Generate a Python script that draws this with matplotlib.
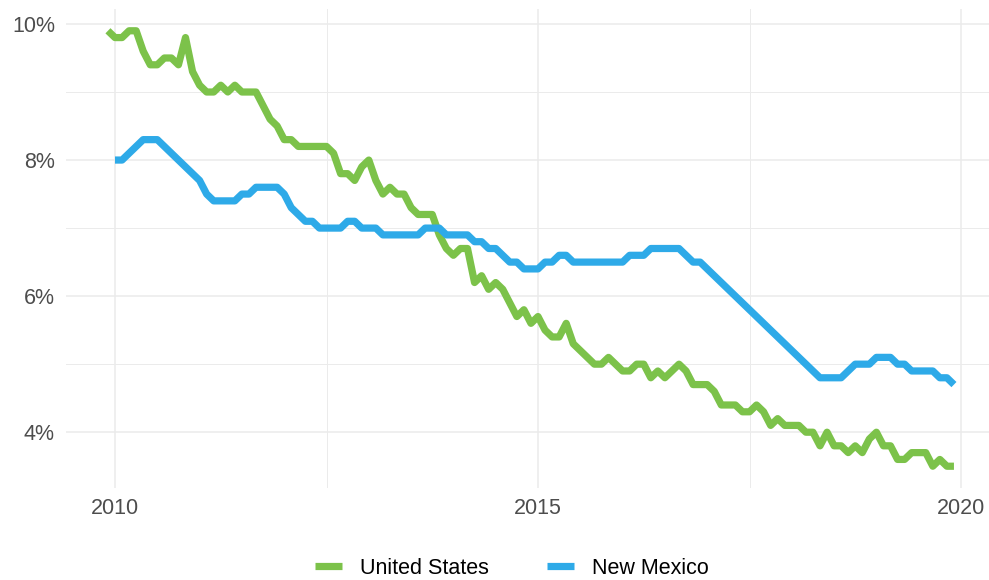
import numpy as np
import pandas as pd
import matplotlib
matplotlib.use('Agg')
import matplotlib.pyplot as plt
from matplotlib.ticker import FuncFormatter, MultipleLocator

# monthly unemployment rate (%)
us_start = '2009-12-01'
us_rate = [9.9,
           9.8, 9.8, 9.9, 9.9, 9.6, 9.4, 9.4, 9.5, 9.5, 9.4, 9.8, 9.3,
           9.1, 9.0, 9.0, 9.1, 9.0, 9.1, 9.0, 9.0, 9.0, 8.8, 8.6, 8.5,
           8.3, 8.3, 8.2, 8.2, 8.2, 8.2, 8.2, 8.1, 7.8, 7.8, 7.7, 7.9,
           8.0, 7.7, 7.5, 7.6, 7.5, 7.5, 7.3, 7.2, 7.2, 7.2, 6.9, 6.7,
           6.6, 6.7, 6.7, 6.2, 6.3, 6.1, 6.2, 6.1, 5.9, 5.7, 5.8, 5.6,
           5.7, 5.5, 5.4, 5.4, 5.6, 5.3, 5.2, 5.1, 5.0, 5.0, 5.1, 5.0,
           4.9, 4.9, 5.0, 5.0, 4.8, 4.9, 4.8, 4.9, 5.0, 4.9, 4.7, 4.7,
           4.7, 4.6, 4.4, 4.4, 4.4, 4.3, 4.3, 4.4, 4.3, 4.1, 4.2, 4.1,
           4.1, 4.1, 4.0, 4.0, 3.8, 4.0, 3.8, 3.8, 3.7, 3.8, 3.7, 3.9,
           4.0, 3.8, 3.8, 3.6, 3.6, 3.7, 3.7, 3.7, 3.5, 3.6, 3.5, 3.5]

nm_start = '2010-01-01'
nm_rate = [8.0, 8.0, 8.1, 8.2, 8.3, 8.3, 8.3, 8.2, 8.1, 8.0, 7.9, 7.8,
           7.7, 7.5, 7.4, 7.4, 7.4, 7.4, 7.5, 7.5, 7.6, 7.6, 7.6, 7.6,
           7.5, 7.3, 7.2, 7.1, 7.1, 7.0, 7.0, 7.0, 7.0, 7.1, 7.1, 7.0,
           7.0, 7.0, 6.9, 6.9, 6.9, 6.9, 6.9, 6.9, 7.0, 7.0, 7.0, 6.9,
           6.9, 6.9, 6.9, 6.8, 6.8, 6.7, 6.7, 6.6, 6.5, 6.5, 6.4, 6.4,
           6.4, 6.5, 6.5, 6.6, 6.6, 6.5, 6.5, 6.5, 6.5, 6.5, 6.5, 6.5,
           6.5, 6.6, 6.6, 6.6, 6.7, 6.7, 6.7, 6.7, 6.7, 6.6, 6.5, 6.5,
           6.4, 6.3, 6.2, 6.1, 6.0, 5.9, 5.8, 5.7, 5.6, 5.5, 5.4, 5.3,
           5.2, 5.1, 5.0, 4.9, 4.8, 4.8, 4.8, 4.8, 4.9, 5.0, 5.0, 5.0,
           5.1, 5.1, 5.1, 5.0, 5.0, 4.9, 4.9, 4.9, 4.9, 4.8, 4.8, 4.7]

series_names = ['United States', 'New Mexico']
series_colors = ['#7cc24a', '#2eaae8']


def decimal_years(start, n):
    d = pd.date_range(start, periods=n, freq='MS')
    return d.year + (d.month - 1) / 12.0


plt.rcParams['font.family'] = ['Liberation Sans', 'DejaVu Sans']

fig = plt.figure(figsize=(9.89, 5.8), dpi=100)
ax = fig.add_axes([66 / 989, 92 / 580, 923 / 989, 479 / 580])

for start, vals, name, col in zip([us_start, nm_start], [us_rate, nm_rate],
                                  series_names, series_colors):
    ax.plot(decimal_years(start, len(vals)), vals, color=col, lw=5.2,
            label=name, solid_capstyle='butt', solid_joinstyle='round')

ax.set_xlim(2010 - 49 / 84.6, 2010 + 874 / 84.6)
ax.set_ylim(3.18, 10.22)
ax.xaxis.set_major_locator(MultipleLocator(5))
ax.xaxis.set_minor_locator(MultipleLocator(2.5))
ax.yaxis.set_major_locator(MultipleLocator(2))
ax.yaxis.set_minor_locator(MultipleLocator(1))
ax.yaxis.set_major_formatter(FuncFormatter(lambda v, p: '%d%%' % v))
ax.xaxis.set_major_formatter(FuncFormatter(lambda v, p: '%d' % v))

ax.grid(which='major', color='#ebebeb', lw=1.1)
ax.grid(which='minor', color='#ebebeb', lw=0.7)
ax.set_axisbelow(True)
for s in ax.spines.values():
    s.set_visible(False)
ax.tick_params(which='both', length=0)
ax.tick_params(axis='y', pad=8, labelsize=15.5, labelcolor='#4d4d4d')
ax.tick_params(axis='x', pad=7, labelsize=15.5, labelcolor='#4d4d4d')

fig.legend(loc='center', bbox_to_anchor=(512 / 989, 12 / 580), ncol=2,
           frameon=False, fontsize=15.5, handlelength=1.25,
           handletextpad=0.85, columnspacing=2.7, borderpad=0)

fig.savefig('out.png', dpi=100)
